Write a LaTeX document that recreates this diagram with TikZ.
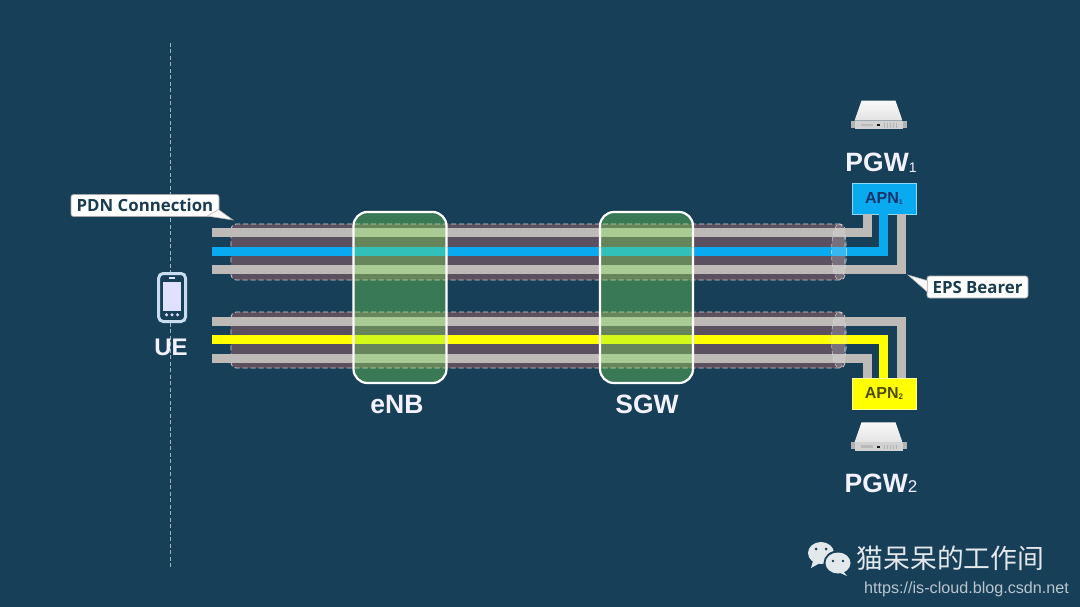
\documentclass[tikz,border=0pt]{standalone}
\usepackage{fontspec}
\setmainfont{Liberation Sans}
\newfontfamily\labelfont{Open Sans}
\newfontfamily\cjk{Noto Sans CJK SC}
\usetikzlibrary{shapes.geometric,calc}
\definecolor{bgc}{RGB}{23,63,88}
\definecolor{tubec}{RGB}{90,80,96}
\definecolor{pipec}{RGB}{189,186,184}
\definecolor{bluec}{RGB}{10,170,240}
\definecolor{yelc}{RGB}{255,255,0}
\definecolor{greenc}{RGB}{129,242,79}
\definecolor{labc}{RGB}{26,60,80}
\definecolor{phonec}{RGB}{200,222,240}
\tikzset{
  x=1pt,y=-1pt,
  tube/.style={rectangle,rounded corners=5pt,fill=tubec,draw=white!75!tubec,dashed,dash pattern=on 5pt off 3pt,line width=.8pt,minimum width=614pt,minimum height=56pt,inner sep=0pt},
  tubecap/.style={ellipse,fill=white,fill opacity=.18,draw=white!80!tubec,draw opacity=.7,dash pattern=on 4pt off 2.5pt,line width=.7pt,minimum width=15pt,minimum height=56pt,inner sep=0pt},
  pipe/.style={line width=9pt,line join=miter},
  gw/.style={rectangle,rounded corners=14pt,fill=greenc,fill opacity=.33,draw=white,draw opacity=1,line width=2.2pt,minimum width=93pt,minimum height=171pt,inner sep=0pt},
  apn/.style={rectangle,minimum width=64pt,minimum height=31pt,inner sep=0pt,font=\bfseries\fontsize{16}{16}\selectfont},
  big/.style={text=white!95!blue,font=\bfseries\fontsize{26.5}{26.5}\selectfont,inner sep=0pt,anchor=base},
  callout/.style={rectangle,rounded corners=2.5pt,fill=white,draw=gray!70,line width=.8pt,text=labc,font=\labelfont\bfseries\fontsize{16.8}{16.8}\selectfont,inner sep=0pt,minimum height=22pt},
  srv/.pic={
    \fill[gray!60] (-30,20) rectangle (26,27);
    \shade[top color=white!95!gray,bottom color=gray!22] (-19,0) -- (15,0) -- (22,20) -- (-26,20) -- cycle;
    \fill[gray!35] (-26,20) rectangle (22,28.5);
    \fill[gray!55] (-20,23) rectangle (-8,25.5);
    \fill[gray!20!black] (-4,23.5) rectangle (-1,25.5);
    \foreach \i in {3,6,9,12,15}{\fill[gray!60] (\i,22.5) rectangle (\i+1.6,27);}
  }
}
\begin{document}
\begin{tikzpicture}
\fill[bgc] (0,0) rectangle (1080,607);
\useasboundingbox (0,0) rectangle (1080,607);
\coordinate (vt) at (170.5,43); \coordinate (vb) at (170.5,567);
\draw[white!60!bgc,dash pattern=on 4pt off 2.5pt,line width=.7pt] (vt) -- (vb);

\node[tube] (tube1) at (538,252) {};
\node[tube] (tube2) at (538,340) {};

\node[apn,fill=bluec,draw=white!55!bluec,line width=.7pt,text=labc!85!blue] (apn1) at (884,198.5) {APN\raisebox{-1.5pt}{\fontsize{7}{7}\selectfont 1}};
\node[apn,fill=yelc,draw=white!60!yelc,line width=.7pt,text=black!70!yelc] (apn2) at (884,393.5) {APN\raisebox{-1.5pt}{\fontsize{8}{8}\selectfont 2}};

\coordinate (a1) at (212,232.5); \coordinate (a2) at (212,251.7); \coordinate (a3) at (212,269.5);
\coordinate (b1) at (212,321.5); \coordinate (b2) at (212,339.5); \coordinate (b3) at (212,358.5);
\coordinate (p1) at (867.5,214); \coordinate (p2) at (883.5,214); \coordinate (p3) at (901.5,214);
\coordinate (q1) at (901.5,378); \coordinate (q2) at (883.5,378); \coordinate (q3) at (867.5,378);
\draw[pipe,pipec] (a1) -| (p1);
\draw[pipe,bluec] (a2) -| (p2);
\draw[pipe,pipec] (a3) -| (p3);
\draw[pipe,pipec] (b1) -| (q1);
\draw[pipe,yelc] (b2) -| (q2);
\draw[pipe,pipec] (b3) -| (q3);

\node[tubecap] (cap1) at (839,252) {};
\node[tubecap] (cap2) at (839,340) {};

\node[gw] (enb) at (400,297.5) {};
\node[gw] (sgw) at (646.5,297.5) {};
\node[big] (enbt) at (397,413) {eNB};
\node[big] (sgwt) at (647,413) {SGW};
\node[big,font=\bfseries\fontsize{24}{24}\selectfont] (uet) at (171,355) {UE};

\node[big] (pgw1) at (881,172) {PGW\fontsize{14}{14}\selectfont\mdseries\raisebox{-.5pt}{1}};
\node[big] (pgw2) at (881,492) {PGW\fontsize{17}{17}\selectfont\mdseries\raisebox{-.5pt}{2}};
\pic at (880.5,100.7) {srv};
\pic at (880.5,422.3) {srv};

% phone
\draw[phonec,fill=bgc,line width=3pt,rounded corners=4.5pt] (158.7,273.5) rectangle (185.5,321.5);
\fill[white!88!blue] (163,282) rectangle (181,311);
\fill[white!88!blue] (169,277.3) rectangle (175,278.5);
\foreach \x in {166.5,172,177.5}{\fill[white!88!blue] (\x,314.8) circle (1.7);}

% callouts
\node[callout,minimum width=148pt] (pdn) at (145,205.5) {PDN Connection};
\coordinate (pdntip) at (233,220);
\fill[white!95!gray,draw=gray!60,line width=.5pt] ($(pdn.east)+(-1,4)$) -- (pdntip) -- ($(pdn.south east)+(-12,-.8)$) -- cycle;
\node[callout,minimum width=101pt] (eps) at (977.5,287) {EPS Bearer};
\coordinate (epstip) at (908,275);
\fill[white!95!gray,draw=gray!60,line width=.5pt] ($(eps.north west)+(0.8,5)$) -- (epstip) -- ($(eps.west)+(.8,5)$) -- cycle;

% wechat mark
\fill[white!88!bgc] (821,553) ellipse (13 and 11);
\fill[white!88!bgc] (813,561) -- (811,568) -- (820,563) -- cycle;
\fill[bgc] (838,563) ellipse (14.5 and 12.5);
\fill[white!88!bgc] (838,563) ellipse (12.5 and 10.5);
\fill[white!88!bgc] (843,571) -- (847,576) -- (838,572) -- cycle;
\fill[bgc] (816,549) circle (1.5) (826,549) circle (1.5) (833,561) circle (1.4) (843,561) circle (1.4);
\node[text=white!88!bgc,font=\cjk\fontsize{26.8}{26.8}\selectfont,inner sep=0pt] (wm) at (950.5,558) {猫呆呆的工作间};
\node[text=white!70!bgc,font=\fontsize{16.15}{16.15}\selectfont,inner sep=0pt] (url) at (966.5,589) {https://is-cloud.blog.csdn.net};
\end{tikzpicture}
\end{document}
